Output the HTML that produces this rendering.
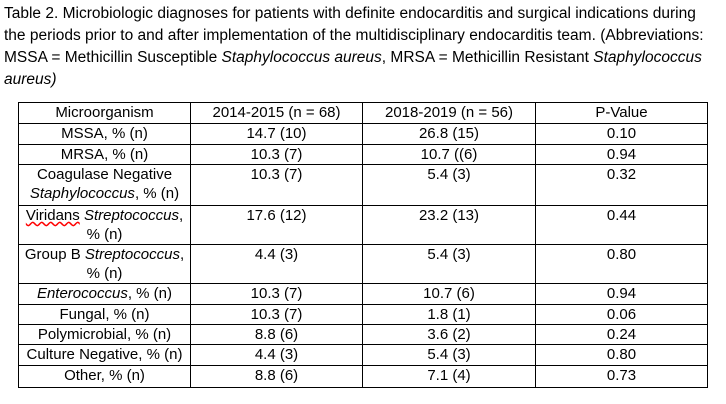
<!DOCTYPE html>
<html><head><meta charset="utf-8"><style>
body{margin:0;width:726px;height:404px;background:#fff;font-family:"Liberation Sans",sans-serif;font-size:15px;color:#000;position:relative;overflow:hidden}
.cap{position:absolute;left:4px;top:3px;line-height:22px;white-space:nowrap;font-size:15.5px}
table{position:absolute;left:18px;top:102px;border-collapse:collapse;table-layout:fixed}
td{border:1px solid #000;text-align:center;vertical-align:top;padding:0;line-height:19px;font-size:15px;white-space:nowrap;overflow:hidden}
</style></head><body>
<div class="cap">Table 2. Microbiologic diagnoses for patients with definite endocarditis and surgical indications during<br>the periods prior to and after implementation of the multidisciplinary endocarditis team. (Abbreviations:<br>MSSA = Methicillin Susceptible <i>Staphylococcus aureus</i>, MRSA = Methicillin Resistant <i>Staphylococcus</i><br><i>aureus)</i></div>
<table>
<colgroup><col style="width:172px"><col style="width:172px"><col style="width:173px"><col style="width:172px"></colgroup>
<tr style="height:21px"><td>Microorganism</td><td>2014-2015 (n = 68)</td><td>2018-2019 (n = 56)</td><td>P-Value</td></tr>
<tr style="height:21px"><td>MSSA, % (n)</td><td>14.7 (10)</td><td>26.8 (15)</td><td>0.10</td></tr>
<tr style="height:20px"><td>MRSA, % (n)</td><td>10.3 (7)</td><td>10.7 ((6)</td><td>0.94</td></tr>
<tr style="height:41px"><td>Coagulase Negative<br><i>Staphylococcus</i>, % (n)</td><td>10.3 (7)</td><td>5.4 (3)</td><td>0.32</td></tr>
<tr style="height:39px"><td><span style="text-decoration:underline wavy red">Viridans</span> <i>Streptococcus</i>,<br>% (n)</td><td>17.6 (12)</td><td>23.2 (13)</td><td>0.44</td></tr>
<tr style="height:39px"><td>Group B <i>Streptococcus</i>,<br>% (n)</td><td>4.4 (3)</td><td>5.4 (3)</td><td>0.80</td></tr>
<tr style="height:21px"><td><i>Enterococcus</i>, % (n)</td><td>10.3 (7)</td><td>10.7 (6)</td><td>0.94</td></tr>
<tr style="height:20px"><td>Fungal, % (n)</td><td>10.3 (7)</td><td>1.8 (1)</td><td>0.06</td></tr>
<tr style="height:20px"><td>Polymicrobial, % (n)</td><td>8.8 (6)</td><td>3.6 (2)</td><td>0.24</td></tr>
<tr style="height:21px"><td>Culture Negative, % (n)</td><td>4.4 (3)</td><td>5.4 (3)</td><td>0.80</td></tr>
<tr style="height:22px"><td>Other, % (n)</td><td>8.8 (6)</td><td>7.1 (4)</td><td>0.73</td></tr>
</table>
</body></html>
